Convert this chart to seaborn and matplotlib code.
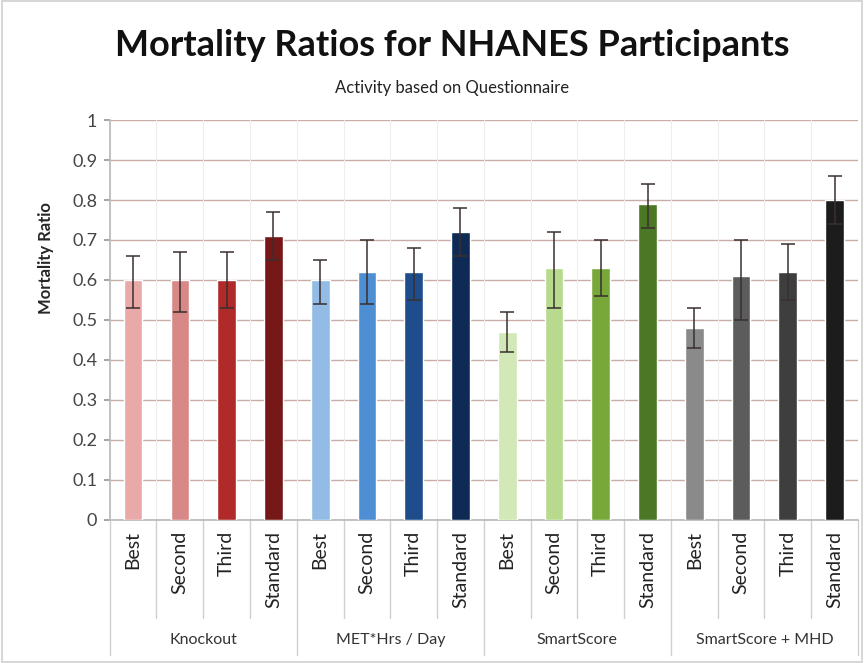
import matplotlib.pyplot as plt
import matplotlib.transforms as mtransforms
import seaborn as sns
import pandas as pd
import numpy as np

# Mortality ratios (Activity based on Questionnaire)
groups = ['Knockout', 'MET*Hrs / Day', 'SmartScore', 'SmartScore + MHD']
levels = ['Best', 'Second', 'Third', 'Standard']

ratio = [0.60, 0.60, 0.60, 0.71,
         0.60, 0.62, 0.62, 0.72,
         0.47, 0.63, 0.63, 0.79,
         0.48, 0.61, 0.62, 0.80]
upper = [0.66, 0.67, 0.67, 0.77,
         0.65, 0.70, 0.68, 0.78,
         0.52, 0.72, 0.70, 0.84,
         0.53, 0.70, 0.69, 0.86]
lower = [0.53, 0.52, 0.53, 0.65,
         0.54, 0.54, 0.55, 0.66,
         0.42, 0.53, 0.56, 0.73,
         0.43, 0.50, 0.55, 0.74]

bar_colors = ['#eaa9a9', '#d98888', '#b02a2a', '#761818',
              '#92bce6', '#4e8ed2', '#1f4d8c', '#0e2a55',
              '#d2e8b6', '#b8da8e', '#78a83a', '#4c7826',
              '#8a8a8a', '#5c5c5c', '#3e3e3e', '#1c1c1c']

keys = [f'{g}|{l}' for g in groups for l in levels]
df = pd.DataFrame({'bar': keys, 'ratio': ratio})

sns.set_theme(style='white')
plt.rcParams['font.family'] = ['Lato', 'DejaVu Sans']

fig = plt.figure(figsize=(8.64, 6.63), dpi=100)
ax = fig.add_axes([0.127, 0.2157, 0.866, 0.6033])

sns.barplot(data=df, x='bar', y='ratio', hue='bar', palette=bar_colors,
            legend=False, width=0.40, saturation=1, ax=ax, zorder=3)

xs = np.arange(len(keys))
yerr = [np.array(ratio) - np.array(lower), np.array(upper) - np.array(ratio)]
ax.errorbar(xs, ratio, yerr=yerr, fmt='none', ecolor='#3b2f2f',
            elinewidth=1.1, capsize=5, capthick=1.1, zorder=4)

ax.set_ylim(0, 1)
ax.set_xlim(-0.5, len(keys) - 0.5)
ax.set_yticks(np.arange(0, 1.01, 0.1))
ax.set_yticklabels(['0', '0.1', '0.2', '0.3', '0.4', '0.5', '0.6', '0.7',
                    '0.8', '0.9', '1'], fontsize=13, color='#444444')
ax.yaxis.grid(True, color='#c9aea8', linewidth=1.0, zorder=0)
ax.set_axisbelow(True)
for k in range(len(keys) + 1):
    ax.axvline(k - 0.5, color='#eeeeee', linewidth=0.8, zorder=1)

ax.set_xticks(xs)
ax.set_xticklabels([l for g in groups for l in levels], rotation=90,
                   fontsize=14, color='#222222')
ax.tick_params(axis='x', length=0, pad=8)
ax.tick_params(axis='y', length=4, left=True, color='#999999', pad=5)

for side in ['top', 'right']:
    ax.spines[side].set_visible(False)
ax.spines['bottom'].set_color('#bbbbbb')
ax.spines['left'].set_color('#bbbbbb')

ax.set_xlabel('')
ax.set_ylabel('Mortality Ratio', fontsize=12, fontweight='bold')
ax.yaxis.set_label_coords(-0.075, 0.655)

# table-like separators under the axis
trans = mtransforms.blended_transform_factory(ax.transData, fig.transFigure)
for k in range(len(keys) + 1):
    x = k - 0.5
    bottom = 0.012 if k % 4 == 0 else 0.068
    ax.plot([x, x], [0.2157, bottom], transform=trans, color='#d0d0d0',
            linewidth=1.0, clip_on=False)
for i, g in enumerate(groups):
    ax.text(i * 4 + 1.5, 0.035, g, transform=trans, ha='center',
            va='center', fontsize=11.5, color='#333333')

fig.text(0.523, 0.932, 'Mortality Ratios for NHANES Participants',
         ha='center', va='center', fontsize=26, fontweight='bold',
         color='#111111')
fig.text(0.523, 0.867, 'Activity based on Questionnaire',
         ha='center', va='center', fontsize=12, color='#222222')

fig.patches.append(plt.Rectangle((0.002, 0.002), 0.996, 0.996,
                                 transform=fig.transFigure, fill=False,
                                 edgecolor='#cfcfcf', linewidth=1.2))

fig.savefig('out.png', dpi=100)
